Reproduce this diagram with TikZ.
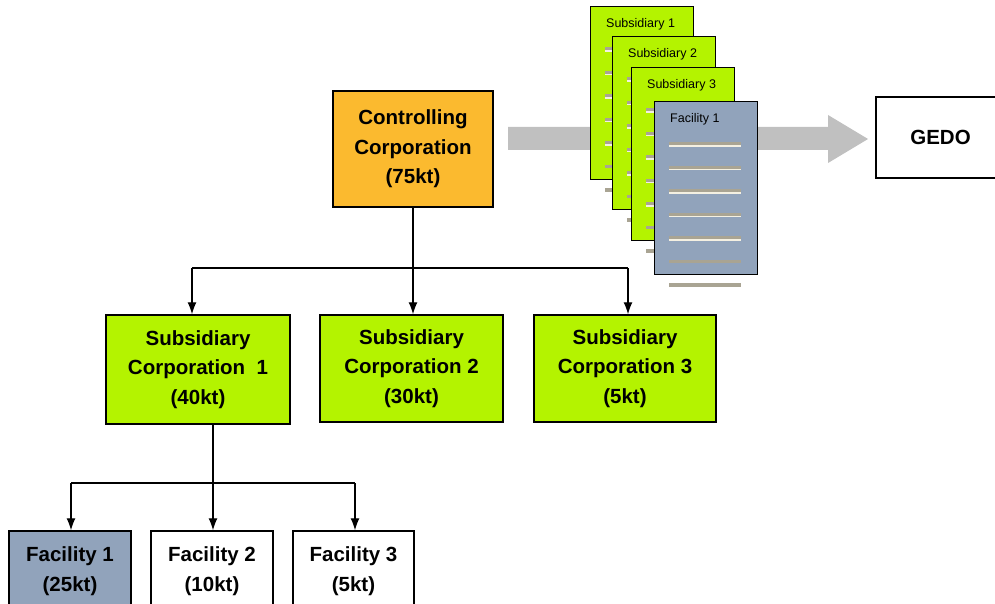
\documentclass[tikz,border=0pt]{standalone}
\usepackage{fontspec}
\setmainfont{Liberation Sans}
\usetikzlibrary{arrows.meta}
\definecolor{limefill}{HTML}{B4F300}
\definecolor{orangefill}{HTML}{FBBA2F}
\definecolor{slatefill}{HTML}{91A3BB}
\definecolor{arrowgray}{HTML}{C0C0C0}
\definecolor{rulegray}{HTML}{A9A493}
\definecolor{rulecream}{HTML}{F4F0E2}
\tikzset{
  orgbox/.style={draw=black, line width=1.4pt, align=center, inner sep=0pt,
    font=\fontsize{20.5}{29.5}\selectfont\bfseries},
  link/.style={line width=1.3pt, -{Latex[length=12pt,width=9pt]}},
  trunk/.style={line width=1.3pt},
  docpage/.style={draw=black, line width=1.4pt, minimum width=103pt, minimum height=173pt,
    anchor=north west, inner sep=0pt},
  doclabel/.style={anchor=west, inner sep=0pt, font=\fontsize{12.5}{14}\selectfont},
}
% one stacked page: box, title and seven text rules
\newcommand{\docsheet}[5]{% name, left, top, fill, title
  \node[docpage, fill=#4] (#1) at (#2,#3) {};
  \node[doclabel] (#1-t) at ([xshift=16pt,yshift=-18pt]#1.north west) {#5};
  \foreach \k in {0,...,6} {
    \draw[rulegray, line width=3.2pt] ([xshift=15pt,yshift={-43pt-23.5pt*\k}]#1.north west) -- ++(72pt,0);
  }
  \foreach \k in {0,...,4} {
    \draw[rulecream, line width=1.3pt] ([xshift=15pt,yshift={-45pt-23.5pt*\k}]#1.north west) -- ++(72pt,0);
  }
}
\begin{document}
\begin{tikzpicture}[x=1pt,y=-1pt]
\clip (0,0) rectangle (995,604);
\fill[white] (0,0) rectangle (995,604);

% reporting flow toward GEDO
\fill[arrowgray] (508,127) -- (828,127) -- (828,115) -- (868,139) -- (828,163) -- (828,150) -- (508,150) -- cycle;

\docsheet{docA}{590}{6}{limefill}{Subsidiary 1}
\docsheet{docB}{612}{36}{limefill}{Subsidiary 2}
\docsheet{docC}{631}{67}{limefill}{Subsidiary 3}
\docsheet{docD}{654}{101}{slatefill}{Facility 1}

\node[orgbox, fill=white, minimum width=129pt, minimum height=81pt] (gedo) at (940.5,137.5) {GEDO};

% corporate structure
\node[orgbox, fill=orangefill, minimum width=160pt, minimum height=116pt] (ctrl) at (413,149) {Controlling\\Corporation\\(75kt)};

\node[orgbox, fill=limefill, minimum width=184pt, minimum height=109pt] (sc1) at (198,369.5) {Subsidiary\\Corporation\ \ 1\\(40kt)};
\node[orgbox, fill=limefill, minimum width=183pt, minimum height=107pt] (sc2) at (411.5,368.5) {Subsidiary\\Corporation 2\\(30kt)};
\node[orgbox, fill=limefill, minimum width=182pt, minimum height=107pt] (sc3) at (625,368.5) {Subsidiary\\Corporation 3\\(5kt)};

\node[orgbox, fill=slatefill, minimum width=122pt, minimum height=80pt] (f1) at (70,571) {Facility 1\\(25kt)};
\node[orgbox, fill=white, minimum width=122pt, minimum height=80pt] (f2) at (212,571) {Facility 2\\(10kt)};
\node[orgbox, fill=white, minimum width=121pt, minimum height=80pt] (f3) at (353.5,571) {Facility 3\\(5kt)};

% connectors: controlling corporation to subsidiaries
\coordinate (busA) at (413,268);
\coordinate (busA1) at (192,268);
\coordinate (busA3) at (628,268);
\draw[trunk] (ctrl.south) -- (busA);
\draw[trunk] (busA1) -- (busA3);
\draw[link] (busA1) -- (sc1.north -| busA1);
\draw[link] (busA) -- (sc2.north -| busA);
\draw[link] (busA3) -- (sc3.north -| busA3);

% connectors: subsidiary 1 to facilities
\coordinate (busB) at (213,483);
\coordinate (busB1) at (71,483);
\coordinate (busB3) at (355,483);
\draw[trunk] (sc1.south -| busB) -- (busB);
\draw[trunk] (busB1) -- (busB3);
\draw[link] (busB1) -- (f1.north -| busB1);
\draw[link] (busB) -- (f2.north -| busB);
\draw[link] (busB3) -- (f3.north -| busB3);
\end{tikzpicture}
\end{document}
